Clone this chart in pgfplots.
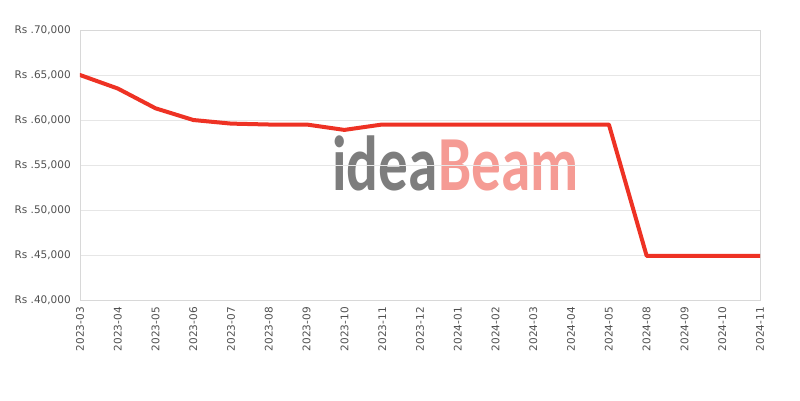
\documentclass[border=0pt]{standalone}
\usepackage{pgfplots}
\pgfplotsset{compat=1.18}
\usepackage{fontspec}
\setmainfont{DejaVu Sans}
\newfontfamily\wmfont{Carlito}
\definecolor{linered}{RGB}{238,50,36}
\definecolor{gridgray}{RGB}{230,230,230}
\definecolor{axisgray}{RGB}{216,216,216}
\definecolor{txt}{RGB}{80,80,80}
\definecolor{wmgray}{RGB}{125,125,125}
\definecolor{wmpink}{RGB}{245,155,148}
\begin{document}
\begin{tikzpicture}[x=1pt,y=1pt]
\node[anchor=base west, inner sep=0, text=wmgray, font=\wmfont\bfseries\fontsize{78}{78}\selectfont, xscale=0.76] at (252,110) {idea};
\node[anchor=base west, inner sep=0, text=wmpink, font=\wmfont\bfseries\fontsize{78}{78}\selectfont, xscale=0.76] at (358,110) {Beam};
\begin{axis}[
  scale only axis, width=680pt, height=270pt,
  at={(0,0)}, anchor=south west,
  xmin=0, xmax=18, ymin=40000, ymax=70000,
  axis line style={axisgray},
  major tick length=0pt,
  scaled y ticks=false,
  ymajorgrids, grid style={gridgray, line width=0.8pt},
  ytick={40000,45000,50000,55000,60000,65000,70000},
  yticklabels={{Rs .40,000},{Rs .45,000},{Rs .50,000},{Rs .55,000},{Rs .60,000},{Rs .65,000},{Rs .70,000}},
  xtick={0,...,18},
  xticklabels={2023-03,2023-04,2023-05,2023-06,2023-07,2023-08,2023-09,2023-10,2023-11,2023-12,2024-01,2024-02,2024-03,2024-04,2024-05,2024-08,2024-09,2024-10,2024-11},
  xticklabel style={rotate=90, anchor=east, inner sep=0pt, xshift=-7pt},
  yticklabel style={inner sep=0pt, xshift=-9pt},
  tick label style={font=\fontsize{10.5}{12}\selectfont, text=txt},
  /pgf/number format/assume math mode=true,
]
\addplot[linered, line width=4pt, line join=round, line cap=round] coordinates {
(0,64999) (1,63499) (2,61299) (3,59999) (4,59599) (5,59499) (6,59499) (7,58899) (8,59499) (9,59499) (10,59499) (11,59499) (12,59499) (13,59499) (14,59499) (15,44899) (16,44899) (17,44899) (18,44899)
};
\end{axis}
\pgfresetboundingbox
\path (-80pt,-100pt) rectangle (720pt,300pt);
\end{tikzpicture}
\end{document}
